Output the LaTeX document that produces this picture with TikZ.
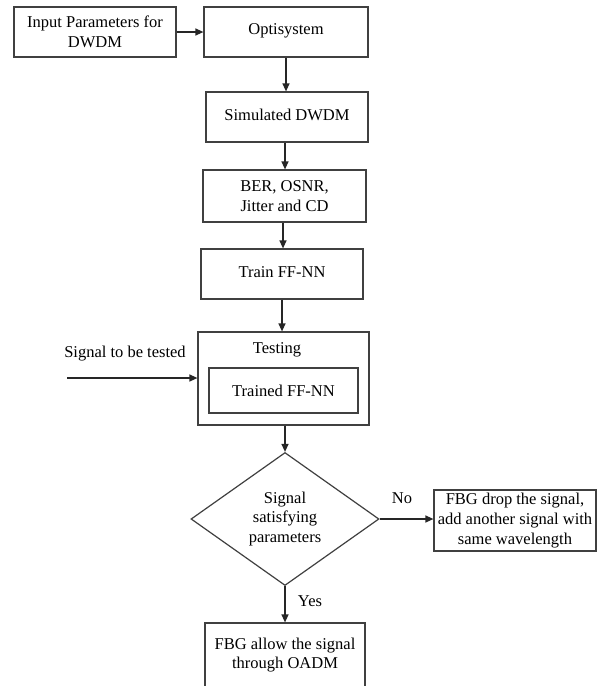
\documentclass[tikz,border=0pt]{standalone}
\usepackage{fontspec}
\setmainfont{Liberation Serif}
\usetikzlibrary{arrows.meta,shapes.geometric}
\tikzset{
  txt/.style={font=\fontsize{16.5}{19.8}\selectfont, align=center, inner sep=0pt},
  box/.style={txt, draw=black!75, line width=1.2pt, rectangle},
  arr/.style={draw=black!85, line width=1.3pt, -{Triangle[length=8pt,width=7pt]}},
}
\begin{document}
\begin{tikzpicture}[x=1pt,y=-1pt]
\useasboundingbox (0,0) rectangle (601,686);
\clip (0,0) rectangle (601,686);
\fill[white] (0,0) rectangle (601,686);

\node[box, minimum width=162, minimum height=50] (in) at (95,32) {Input Parameters for\\DWDM};
\node[box, minimum width=164, minimum height=50, text depth=6pt] (opt) at (286,32) {Optisystem};
\node[box, minimum width=162, minimum height=50, text depth=4pt] (sim) at (287,117) {Simulated DWDM};
\node[box, minimum width=163, minimum height=52] (ber) at (284.5,196) {BER, OSNR,\\Jitter and CD};
\node[box, minimum width=162, minimum height=50, text depth=4pt] (train) at (282,274) {Train FF-NN};
\node[box, minimum width=171, minimum height=93] (test) at (283.5,378.5) {};
\node[txt] (testlbl) at (277,350) {Testing};
\node[box, minimum width=149, minimum height=45] (trained) at (283.5,390.5) {Trained FF-NN};
\node[txt] (sig) at (125,354) {Signal to be tested};
\coordinate (sigstart) at (67,378);

\node[box, diamond, minimum width=188, minimum height=133] (dec) at (285,519) {Signal\\satisfying\\parameters};
\node[box, minimum width=162, minimum height=61] (drop) at (515,520.5) {FBG drop the signal,\\add another signal with\\same wavelength};
\node[box, minimum width=160, minimum height=64] (allow) at (285,655) {FBG allow the signal\\through OADM};
\node[txt] (no) at (402,498) {No};
\node[txt] (yes) at (310,601) {Yes};

\draw[arr] (in.east) -- (opt.west);
\draw[arr] (opt.south) -- (opt.south |- sim.north);
\draw[arr] (sim.south -| 285,0) -- (285,0 |- ber.north);
\draw[arr] (ber.south -| 283,0) -- (283,0 |- train.north);
\draw[arr] (train.south) -- (train.south |- test.north);
\draw[arr] (sigstart) -- (sigstart -| test.west);
\draw[arr] (test.south -| dec.north) -- (dec.north);
\draw[arr] (dec.east) -- (dec.east -| drop.west);
\draw[arr] (dec.south) -- (dec.south |- allow.north);
\end{tikzpicture}
\end{document}
